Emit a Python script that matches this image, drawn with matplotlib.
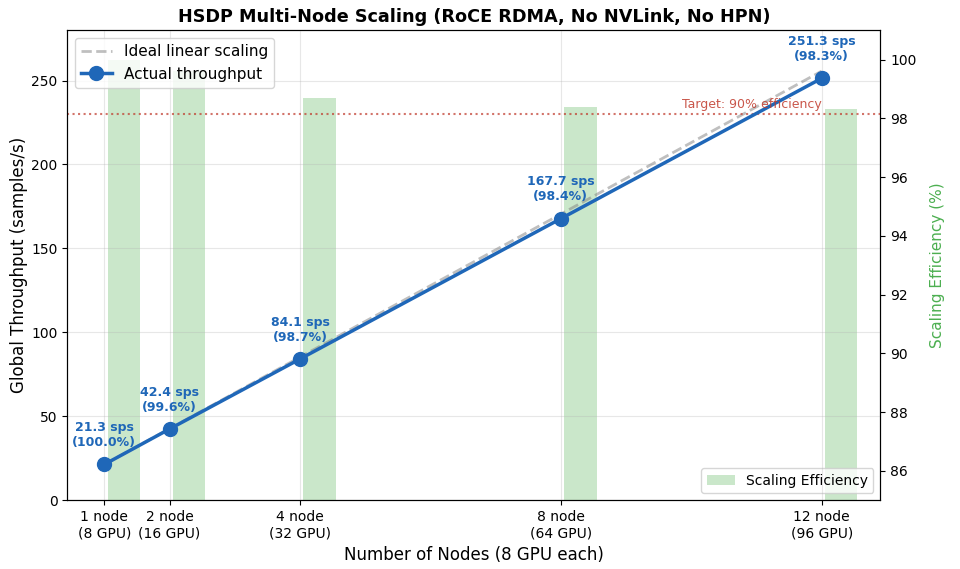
import matplotlib
matplotlib.use('Agg')
import matplotlib.pyplot as plt
import numpy as np

nodes = [1, 2, 4, 8, 12]
tick_labels = ['1 node\n(8 GPU)', '2 node\n(16 GPU)', '4 node\n(32 GPU)',
               '8 node\n(64 GPU)', '12 node\n(96 GPU)']
throughput = [21.3, 42.4, 84.1, 167.7, 251.3]
efficiency = [100.0, 99.6, 98.7, 98.4, 98.3]
base = 21.3

c_actual = '#1f67b8'
c_ideal = 'gray'
c_bar = '#2ca02c'

fig, ax1 = plt.subplots(figsize=(9.6, 5.69), dpi=100)
plt.subplots_adjust(left=0.07, right=0.917, bottom=0.121, top=0.947)

ideal = [base * n for n in nodes]
ax1.plot(nodes, ideal, '--', color=c_ideal, alpha=0.5, linewidth=2,
         label='Ideal linear scaling', zorder=2)
ax1.plot(nodes, throughput, 'o-', color=c_actual, linewidth=2.5,
         markersize=10, label='Actual throughput', zorder=3)

for x, y, e in zip(nodes, throughput, efficiency):
    ax1.annotate(f'{y:.1f} sps\n({e:.1f}%)', xy=(x, y), xytext=(0, 11),
                 textcoords='offset points', ha='center', va='bottom',
                 fontsize=9, fontweight='bold', color=c_actual)

# 90% target line
target = 0.9 * ideal[-1]
ax1.axhline(target, color='#c0392b', linestyle=':', linewidth=1.5, alpha=0.7)
ax1.text(12, target + 1.5, 'Target: 90% efficiency', ha='right', va='bottom',
         fontsize=9, color='#c0392b', alpha=0.85)

ax1.set_xlim(0.43, 12.9)
ax1.set_ylim(0, 280)
ax1.set_xticks(nodes)
ax1.set_xticklabels(tick_labels)
ax1.set_xlabel('Number of Nodes (8 GPU each)', fontsize=12)
ax1.set_ylabel('Global Throughput (samples/s)', fontsize=12, labelpad=2)
ax1.grid(True, alpha=0.3)
ax1.set_title('HSDP Multi-Node Scaling (RoCE RDMA, No NVLink, No HPN)',
              fontsize=12.7, fontweight='bold')

ax2 = ax1.twinx()
ax2.bar([n + 0.3 for n in nodes], efficiency, width=0.5, color=c_bar,
        alpha=0.25, label='Scaling Efficiency')
ax2.set_ylim(85, 101)
ax2.set_ylabel('Scaling Efficiency (%)', fontsize=11, color='#4caf50',
               labelpad=10)

ax1.set_zorder(ax2.get_zorder() + 1)
ax1.patch.set_visible(False)

ax1.legend(loc='upper left', fontsize=11)
ax2.legend(loc='lower right', fontsize=10)

plt.savefig('out.png', dpi=100)
